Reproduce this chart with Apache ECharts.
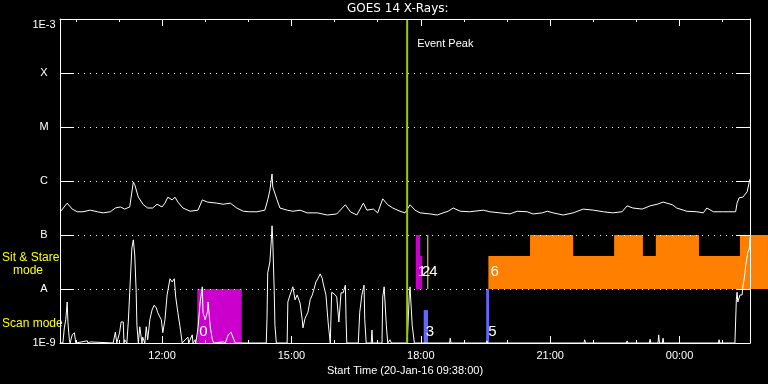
<!DOCTYPE html>
<html><head><meta charset="utf-8">
<script src="https://cdn.jsdelivr.net/npm/echarts@6/dist/echarts.min.js"></script>
<style>html,body{margin:0;padding:0;background:#000}#c{width:768px;height:384px}</style>
</head><body><div id="c"></div>
<script>
// Times: minutes since 00:00 on 20-Jan-16. Flux: log10(W/m^2).
const startMinute = 578;   // 09:38
const endMinute = 1538;    // 01:38 next day
const chartTitle = 'GOES 14 X-Rays:';
const xAxisTitle = 'Start Time (20-Jan-16 09:38:00)';
const yTickValues = [-9, -8, -7, -6, -5, -4, -3];
const yTickLabels = ['1E-9', 'A', 'B', 'C', 'M', 'X', '1E-3'];
const xLabelMinutes = [720, 900, 1080, 1260, 1440];
const xHourMinutes = [600, 660, 720, 780, 840, 900, 960, 1020, 1080, 1140, 1200, 1260, 1320, 1380, 1440, 1500];

// GOES long channel (1-8 A)
const longChannel = [
[579,-6.56],[581,-6.56],[588,-6.41],[595,-6.52],[602,-6.57],[610,-6.57],[620,-6.54],[630,-6.57],[638,-6.59],[648,-6.57],
[655,-6.50],[662,-6.48],[668,-6.52],[675,-6.48],[680,-6.02],[682,-6.07],[687,-6.30],[694,-6.44],[700,-6.50],[707,-6.50],
[713,-6.43],[720,-6.48],[724,-6.41],[728,-6.30],[734,-6.35],[738,-6.30],[742,-6.39],[749,-6.50],[759,-6.56],[770,-6.54],
[776,-6.35],[783,-6.39],[796,-6.41],[805,-6.43],[815,-6.41],[824,-6.50],[833,-6.56],[842,-6.57],[852,-6.57],[863,-6.54],
[867,-6.35],[870,-6.17],[873,-5.87],[874,-6.11],[880,-6.35],[884,-6.50],[894,-6.54],[902,-6.56],[912,-6.54],[922,-6.59],
[936,-6.59],[950,-6.63],[963,-6.61],[975,-6.44],[982,-6.57],[991,-6.63],[1000,-6.41],[1005,-6.54],[1014,-6.52],[1020,-6.59],
[1027,-6.33],[1034,-6.44],[1041,-6.50],[1051,-6.56],[1058,-6.59],[1065,-6.44],[1072,-6.54],[1079,-6.59],[1093,-6.61],[1103,-6.63],
[1111,-6.59],[1118,-6.56],[1125,-6.50],[1135,-6.56],[1148,-6.57],[1167,-6.54],[1176,-6.57],[1190,-6.59],[1204,-6.61],[1214,-6.56],
[1228,-6.57],[1236,-6.61],[1249,-6.59],[1256,-6.56],[1264,-6.59],[1278,-6.63],[1292,-6.59],[1306,-6.52],[1320,-6.54],[1334,-6.57],
[1347,-6.59],[1360,-6.57],[1367,-6.46],[1375,-6.50],[1388,-6.52],[1399,-6.46],[1409,-6.43],[1417,-6.39],[1430,-6.44],[1436,-6.50],
[1450,-6.56],[1464,-6.57],[1473,-6.59],[1478,-6.50],[1487,-6.57],[1500,-6.57],[1518,-6.57],[1520,-6.41],[1523,-6.31],[1528,-6.30],
[1534,-6.20],[1537,-6.02],[1538,-5.96]
];

// GOES short channel (0.5-4 A); -9 = at or below 1E-9
const shortChannel = [
[579,-9],[582,-9],[584,-8.72],[586,-8.57],[588,-8.24],[589,-8.61],[591,-8.94],[592,-9],[595,-8.85],[598,-8.81],[600,-9],
[616,-8.96],[617,-9],[620,-8.98],[621,-9],[652,-9],[655,-8.80],[657,-9],[661,-8.80],[663,-8.61],[666,-8.61],[667,-9],
[668,-8.94],[671,-9],[673,-8.61],[675,-8.06],[678,-7.24],[680,-7.09],[682,-7.37],[684,-8.06],[685,-8.67],[687,-9],
[689,-8.70],[692,-9],[693,-8.89],[696,-9],[698,-8.70],[700,-8.94],[703,-8.57],[706,-8.39],[709,-8.30],[712,-8.35],
[714,-8.44],[719,-8.57],[721,-8.81],[724,-8.57],[727,-8.11],[731,-7.81],[734,-7.87],[737,-7.81],[739,-8.15],[742,-8.44],
[745,-8.70],[748,-9],[756,-8.89],[757,-9],[762,-8.85],[763,-9],[766,-8.94],[767,-9],[770,-8.72],[773,-8.24],[776,-7.96],
[777,-8.44],[780,-8.57],[783,-8.43],[784,-8.24],[787,-8.70],[790,-8.94],[792,-9],[805,-8.98],[808,-9],[812,-8.85],
[816,-8.80],[819,-8.91],[822,-9],[859,-9],[865,-9],[866,-8.54],[867,-7.70],[870,-7.50],[872,-7.09],[873,-6.83],[874,-7.09],
[876,-8.02],[877,-8.67],[879,-9],[894,-9],[895,-8.24],[898,-8.11],[902,-7.96],[905,-8.20],[908,-8.11],[912,-8.26],
[915,-8.57],[916,-8.72],[919,-8.54],[923,-8.43],[926,-8.20],[929,-8.11],[931,-8.02],[934,-7.87],[937,-7.80],[940,-7.72],
[943,-7.81],[944,-7.89],[948,-8.11],[951,-8.61],[954,-9],[955,-9],[956,-8.06],[961,-8.11],[963,-8.15],[966,-8.61],
[969,-8.07],[972,-8.07],[975,-7.93],[976,-8.57],[977,-9],[993,-9],[995,-8.43],[998,-8.11],[1001,-7.93],[1002,-8.57],
[1004,-9],[1011,-9],[1012,-8.76],[1013,-9],[1026,-9],[1027,-8.15],[1029,-7.96],[1032,-8.67],[1034,-9],[1037,-8.94],
[1039,-9],[1061,-9],[1064,-8.11],[1065,-7.96],[1068,-8.67],[1071,-9],[1120,-9],[1121,-8.91],[1122,-9],[1171,-9],
[1172,-8.96],[1173,-9],[1192,-9],[1193,-8.98],[1194,-9],[1307,-9],[1308,-8.94],[1309,-9],[1366,-9],[1367,-8.96],
[1368,-9],[1398,-9],[1399,-8.93],[1400,-9],[1410,-9],[1411,-8.85],[1412,-9],[1416,-9],[1417,-8.91],[1418,-9],
[1494,-9],[1495,-8.94],[1496,-9],[1517,-9],[1519,-8.19],[1520,-8.06],[1521,-8.24],[1524,-8.11],[1527,-8.11],[1528,-7.96],
[1530,-7.80],[1531,-7.70],[1532,-7.56],[1534,-7.41],[1535,-7.31],[1537,-7.26],[1538,-7.04]
];

// Observing-mode blocks
const blockIds   = ['0', '1', '2', '3', '4', '5', '6'];
const blockMode  = ['scan', 'sit', 'sit', 'scan', 'sit', 'scan', 'sit'];
const blockStart = [769, 1073, 1079, 1084, 1089, 1171, 1174];
const blockEnd   = [831, 1079, 1082, 1090, 1090, 1175, 1563];
const blockTop   = [-8, -7, -7.39, -8.39, -7, -8, -7.39];
// higher steps of block 6
const stepStart = [1232, 1349, 1407, 1524];
const stepEnd   = [1292, 1389, 1467, 1563];
const stepTop   = [-7, -7, -7, -7];

const eventTimes = [1061];
const eventLabels = ['Event Peak'];

// ---- styles ----
const FONT = '"Liberation Sans", Arial, sans-serif';
const bandBottom = { scan: -9, sit: -8 };
const labelLevel = { scan: -8.80, sit: -7.69 };
const blockColors = { '0': '#cc00cc', '1': '#cc00cc', '2': '#cc00cc', '3': '#6464ff', '4': '#ffff00', '5': '#6464ff', '6': '#ff8000' };

function hhmm(v) {
  const m = ((v % 1440) + 1440) % 1440;
  const h = Math.floor(m / 60), mm = m % 60;
  return (h < 10 ? '0' : '') + h + ':' + (mm < 10 ? '0' : '') + mm;
}

const blockData = blockIds.map((id, i) => [blockStart[i], blockEnd[i], bandBottom[blockMode[i]], blockTop[i]]);
const stepData = stepStart.map((s, i) => [s, stepEnd[i], bandBottom.sit, stepTop[i]]);

const chart = echarts.init(document.getElementById('c'), null, { renderer: 'canvas' });

function xAxisBase(pos, tickVals, len, showLine) {
  return {
    type: 'value', position: pos, min: startMinute, max: endMinute, z: 5,
    axisLine: { show: showLine, onZero: false, lineStyle: { color: '#fff', width: 1 } },
    axisTick: { show: true, inside: true, length: len, customValues: tickVals, lineStyle: { color: '#fff', width: 1 } },
    axisLabel: { show: false },
    splitLine: { show: false }
  };
}

const bottomMain = xAxisBase('bottom', xLabelMinutes, 7, true);
bottomMain.axisLabel = {
  show: true, customValues: xLabelMinutes, formatter: hhmm, color: '#fff',
  fontFamily: FONT, fontSize: 11, margin: 7
};
bottomMain.name = xAxisTitle;
bottomMain.nameLocation = 'middle';
bottomMain.nameGap = 18;
bottomMain.nameTextStyle = { color: '#fff', fontFamily: FONT, fontSize: 11 };

const option = {
  backgroundColor: '#000',
  animation: false,
  title: {
    text: chartTitle, left: 347, top: 3, padding: 0,
    textStyle: { color: '#fff', fontFamily: '"DejaVu Sans", sans-serif', fontSize: 12, fontWeight: 'normal' }
  },
  grid: { left: 60, right: 18, top: 19, bottom: 41, containLabel: false },
  xAxis: [
    bottomMain,
    xAxisBase('bottom', xHourMinutes, 3, false),
    xAxisBase('top', xLabelMinutes, 7, true),
    xAxisBase('top', xHourMinutes, 3, false)
  ],
  yAxis: [
    {
      type: 'value', position: 'left', min: -9, max: -3, interval: 1, z: 5,
      axisLine: { show: true, lineStyle: { color: '#fff', width: 1 } },
      axisTick: { show: true, inside: true, length: 14, lineStyle: { color: '#fff', width: 1 } },
      axisLabel: {
        color: '#fff', fontFamily: FONT, fontSize: 11, align: 'center', margin: 16,
        verticalAlignMaxLabel: 'top',
        formatter: v => yTickLabels[yTickValues.indexOf(Math.round(v))] || ''
      },
      splitLine: { show: true, lineStyle: { color: '#fff', width: 1, type: [1, 5] } }
    },
    {
      type: 'value', position: 'right', min: -9, max: -3, interval: 1, z: 5,
      axisLine: { show: true, lineStyle: { color: '#fff', width: 1 } },
      axisTick: { show: true, inside: true, length: 14, lineStyle: { color: '#fff', width: 1 } },
      axisLabel: { show: false },
      splitLine: { show: false }
    }
  ],
  graphic: [
    { type: 'text', x: 2, y: 258, style: { text: 'Sit & Stare', fill: '#ffff00', font: '12px ' + FONT, verticalAlign: 'middle' } },
    { type: 'text', x: 13, y: 271, style: { text: 'mode', fill: '#ffff00', font: '12px ' + FONT, verticalAlign: 'middle' } },
    { type: 'text', x: 2, y: 324, style: { text: 'Scan mode', fill: '#ffff00', font: '12px ' + FONT, verticalAlign: 'middle' } }
  ],
  series: [
    {
      type: 'custom', name: 'modes', z: 1, clip: false,
      encode: { x: [0, 1], y: [2, 3] },
      data: blockData,
      renderItem: function (params, api) {
        const i = params.dataIndex;
        const p0 = api.coord([api.value(0), api.value(3)]);
        const p1 = api.coord([api.value(1), api.value(2)]);
        const w = Math.max(1, p1[0] - p0[0]);
        const lp = api.coord([api.value(0), labelLevel[blockMode[i]]]);
        return {
          type: 'group',
          children: [
            { type: 'rect', shape: { x: p0[0], y: p0[1], width: w, height: p1[1] - p0[1] },
              style: { fill: blockColors[blockIds[i]] } },
            { type: 'text', x: lp[0] + 2, y: lp[1], z2: 10,
              style: { text: blockIds[i], fill: '#ffffff', font: '15px ' + FONT, verticalAlign: 'middle', align: 'left' } }
          ]
        };
      }
    },
    {
      type: 'custom', name: 'mode6steps', z: 1, clip: false,
      encode: { x: [0, 1], y: [2, 3] },
      data: stepData,
      renderItem: function (params, api) {
        const p0 = api.coord([api.value(0), api.value(3)]);
        const p1 = api.coord([api.value(1), api.value(2)]);
        return { type: 'rect', shape: { x: p0[0], y: p0[1], width: p1[0] - p0[0], height: p1[1] - p0[1] },
                 style: { fill: blockColors['6'] } };
      }
    },
    {
      type: 'line', name: 'long', data: longChannel, showSymbol: false, z: 3,
      lineStyle: { color: '#fff', width: 1 }, itemStyle: { color: '#fff' }
    },
    {
      type: 'line', name: 'short', data: shortChannel, showSymbol: false, z: 3,
      lineStyle: { color: '#fff', width: 1 }, itemStyle: { color: '#fff' }
    },
    {
      type: 'custom', name: 'event', z: 4, clip: false,
      encode: { x: 0, y: 1 },
      data: eventTimes.map(t => [t, -3]),
      renderItem: function (params, api) {
        const top = api.coord([api.value(0), -3]);
        const bot = api.coord([api.value(0), -9]);
        return {
          type: 'group',
          children: [
            { type: 'line', shape: { x1: top[0], y1: top[1], x2: bot[0], y2: bot[1] },
              style: { stroke: '#9acd00', lineWidth: 2 } },
            { type: 'text', x: top[0] + 10, y: top[1] + 25,
              style: { text: eventLabels[params.dataIndex], fill: '#fff', font: '11px ' + FONT, verticalAlign: 'middle' } }
          ]
        };
      }
    }
  ]
};
chart.setOption(option);
</script>
</body></html>
